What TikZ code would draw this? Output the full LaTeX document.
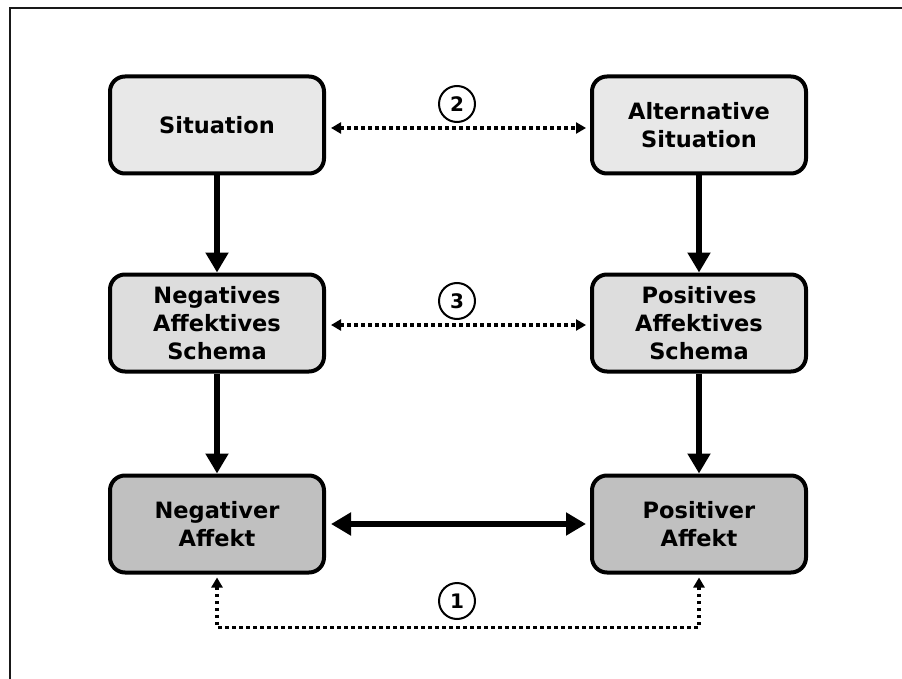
\documentclass[tikz,border=0pt]{standalone}
\usepackage{fontspec}
\setmainfont{DejaVu Sans}
\usetikzlibrary{arrows.meta}
\definecolor{cone}{HTML}{E8E8E8}
\definecolor{ctwo}{HTML}{DDDDDD}
\definecolor{cthree}{HTML}{C0C0C0}
\begin{document}
\begin{tikzpicture}[x=1pt,y=-1pt,
  box/.style={draw, line width=4pt, rounded corners=15pt, minimum width=214pt,
    minimum height=97pt, align=center, inner sep=0pt,
    font=\fontsize{22.5}{28}\selectfont\bfseries},
  thickarrow/.style={line width=6.5pt, -{Triangle[width=22pt,length=20pt]}},
  boththick/.style={line width=6.5pt, {Triangle[width=22pt,length=20pt]}-{Triangle[width=22pt,length=20pt]}},
  dotarrow/.style={line width=3.5pt, dash pattern=on 3.5pt off 3.5pt,
    {Triangle[width=11pt,length=10pt]}-{Triangle[width=11pt,length=10pt]}},
  numc/.style={circle, draw, line width=2pt, minimum size=36pt, inner sep=0pt,
    font=\fontsize{20}{20}\selectfont\bfseries}]
\useasboundingbox (0,0) rectangle (902,679);
\draw[line width=2.5pt, black!90] (10,679) -- (10,8) -- (902,8);

\node[box, fill=cone] (sit) at (217,125) {Situation};
\node[box, fill=cone] (alt) at (699,125) {Alternative\\Situation};
\node[box, fill=ctwo] (neg) at (217,323) {Negatives\\Affektives\\Schema};
\node[box, fill=ctwo] (pos) at (699,323) {Positives\\Affektives\\Schema};
\node[box, fill=cthree] (na) at (217,524) {Negativer\\Affekt};
\node[box, fill=cthree] (pa) at (699,524) {Positiver\\Affekt};

\draw[thickarrow] (sit.south) -- (neg.north);
\draw[thickarrow] (alt.south) -- (pos.north);
\draw[thickarrow] (neg.south) -- (na.north);
\draw[thickarrow] (pos.south) -- (pa.north);
\draw[boththick, shorten <=5pt, shorten >=4pt] (na.east) -- (pa.west);

\draw[dotarrow, shorten <=5pt, shorten >=4pt] ([yshift=-3pt]sit.east) -- ([yshift=-3pt]alt.west);
\draw[dotarrow, shorten <=5pt, shorten >=4pt] ([yshift=-2pt]neg.east) -- ([yshift=-2pt]pos.west);
\draw[dotarrow, shorten <=3pt, shorten >=3pt] (na.south) -- ++(0,53) -| (pa.south);

\node[numc] (c2) at (457,104) {2};
\node[numc] (c3) at (457,301) {3};
\node[numc] (c1) at (457,601) {1};
\end{tikzpicture}
\end{document}
